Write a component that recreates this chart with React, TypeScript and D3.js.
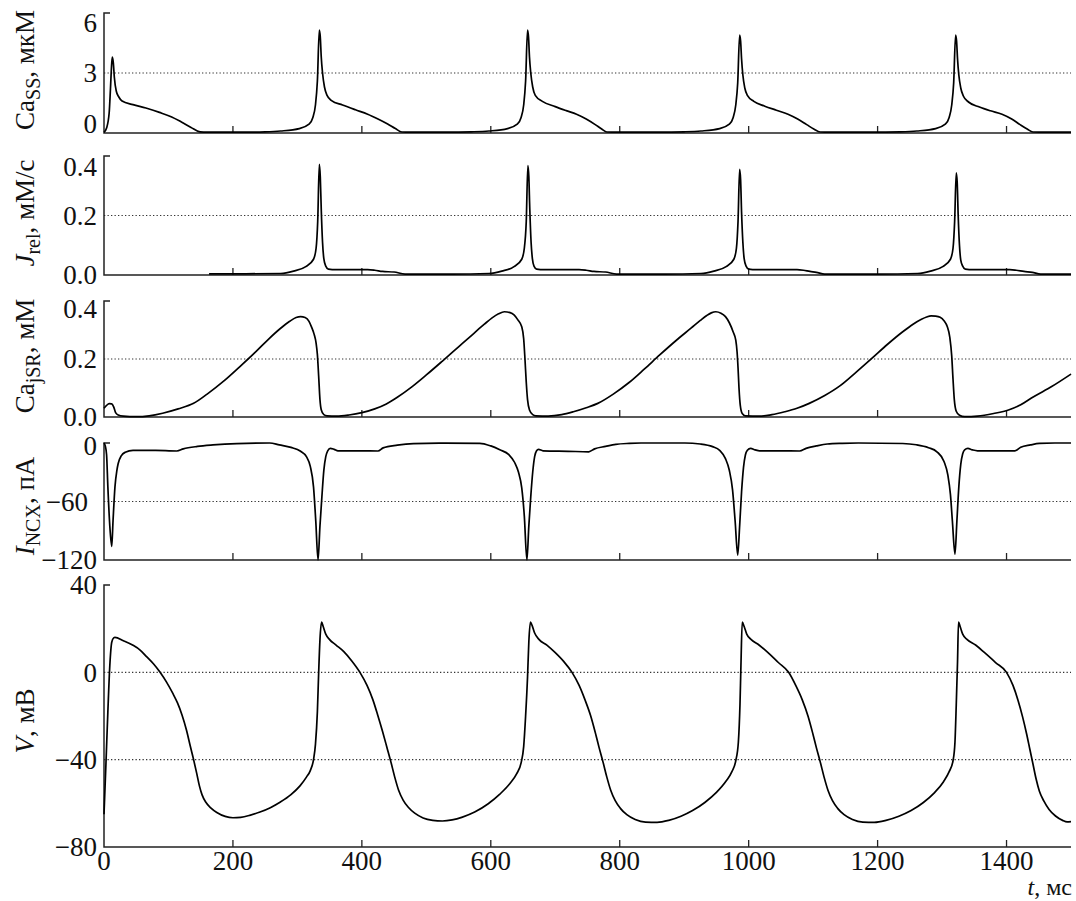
import React, { useEffect, useRef } from 'react'
import * as d3 from 'd3'

type Pt = [number, number]

// time axis, ms
const timeTicks = [0, 200, 400, 600, 800, 1000, 1200, 1400]

// Ca_SS, uM
const caSS: Pt[] = [
  [0, 0.03], [4, 0.25], [8, 1.0], [10, 2.2], [12, 3.5], [13, 3.8], [14.5, 3.5], [16, 2.8], [19, 2.1], [23, 1.8],
  [28, 1.6], [45, 1.42], [65, 1.25], [86, 1.03], [105, 0.8], [120, 0.55], [135, 0.28], [149, 0.06], [160, 0.04],
  [210, 0.04], [250, 0.06], [274, 0.1], [303, 0.22], [318, 0.44], [324, 0.78], [328, 1.4], [331, 2.6], [334, 5.15],
  [335.5, 4.8], [337, 3.8], [339, 3.0], [342, 2.3], [346, 1.88], [353, 1.62], [370, 1.4], [390, 1.16], [409, 0.94],
  [425, 0.7], [440, 0.45], [452, 0.22], [462, 0.05], [475, 0.04],
  [530, 0.04], [570, 0.06], [597, 0.1], [626, 0.22], [641, 0.44], [647, 0.78], [651, 1.4], [654, 2.6], [657, 5.15],
  [658.5, 4.8], [660, 3.8], [662, 3.0], [665, 2.3], [669, 1.88], [680, 1.58], [700, 1.32], [717, 1.12], [733, 0.94],
  [748, 0.7], [762, 0.42], [772, 0.2], [780, 0.05], [795, 0.04],
  [860, 0.04], [900, 0.06], [926, 0.1], [955, 0.22], [970, 0.44], [976, 0.78], [980, 1.4], [983, 2.5], [986, 4.9],
  [987.5, 4.6], [989, 3.7], [991, 2.9], [994, 2.25], [998, 1.88], [1008, 1.58], [1025, 1.34], [1043, 1.14], [1061, 0.94],
  [1076, 0.7], [1090, 0.42], [1101, 0.2], [1111, 0.05], [1125, 0.04],
  [1190, 0.04], [1235, 0.06], [1261, 0.1], [1290, 0.22], [1305, 0.44], [1311, 0.78], [1315, 1.4], [1318, 2.5], [1321, 4.9],
  [1322.5, 4.6], [1324, 3.7], [1326, 2.9], [1329, 2.25], [1333, 1.85], [1341, 1.55], [1358, 1.3], [1375, 1.11], [1393, 0.94],
  [1408, 0.7], [1421, 0.42], [1432, 0.2], [1441, 0.05], [1460, 0.04], [1500, 0.04],
]

// J_rel, mM/s
const jRel: Pt[] = [
  [163, 0.004], [220, 0.004], [274, 0.005], [294, 0.013], [313, 0.028], [325, 0.053], [329, 0.09], [331.5, 0.18],
  [334, 0.372], [335.5, 0.33], [337, 0.22], [339, 0.11], [341, 0.055], [344, 0.03], [348, 0.02], [360, 0.018],
  [409, 0.018], [420, 0.016], [432, 0.012], [450, 0.01], [467, 0.003],
  [540, 0.003], [597, 0.005], [617, 0.013], [636, 0.028], [648, 0.053], [652, 0.09], [655, 0.18],
  [657.5, 0.368], [659, 0.33], [660.5, 0.22], [662.5, 0.11], [664.5, 0.055], [667, 0.03], [671, 0.02], [683, 0.018],
  [737, 0.018], [748, 0.016], [760, 0.012], [778, 0.01], [795, 0.003],
  [870, 0.003], [926, 0.005], [946, 0.013], [965, 0.028], [977, 0.053], [981, 0.09], [983.5, 0.18],
  [986, 0.355], [987.5, 0.32], [989, 0.21], [991, 0.11], [993, 0.055], [996, 0.03], [1000, 0.02], [1012, 0.018],
  [1075, 0.018], [1085, 0.016], [1095, 0.012], [1105, 0.009], [1118, 0.003],
  [1200, 0.003], [1262, 0.005], [1282, 0.013], [1301, 0.028], [1313, 0.053], [1317, 0.09], [1319.5, 0.18],
  [1322, 0.343], [1323.5, 0.31], [1325, 0.2], [1327, 0.1], [1329, 0.05], [1332, 0.03], [1336, 0.02], [1348, 0.018],
  [1405, 0.018], [1415, 0.016], [1427, 0.012], [1440, 0.009], [1453, 0.003], [1500, 0.003],
]

// Ca_jSR, mM
const caJSR: Pt[] = [
  [0, 0.03], [4, 0.04], [8, 0.046], [12, 0.045], [15, 0.035], [18, 0.015], [22, 0.007], [30, 0.003], [50, 0.001],
  [70, 0.004], [91, 0.013], [115, 0.028], [139, 0.047], [160, 0.079], [187, 0.126], [210, 0.172], [236, 0.226],
  [255, 0.268], [274, 0.306], [288, 0.33], [298, 0.343], [305, 0.346], [312, 0.343], [318, 0.33], [322, 0.31],
  [326, 0.285], [329, 0.255], [331, 0.215], [333, 0.14], [335, 0.06], [337, 0.025], [341, 0.008], [346, 0.004],
  [361, 0.003], [380, 0.007], [400, 0.015], [420, 0.028], [438, 0.045], [455, 0.068], [477, 0.103], [500, 0.145],
  [525, 0.193], [550, 0.242], [573, 0.287], [590, 0.32], [602, 0.342], [612, 0.356], [621, 0.363], [630, 0.36],
  [636, 0.352], [642, 0.335], [648, 0.311], [651, 0.27], [653, 0.2], [655, 0.12], [657, 0.06], [660, 0.024],
  [665, 0.008], [670, 0.004], [689, 0.003], [710, 0.008], [728, 0.018], [748, 0.032], [766, 0.047], [790, 0.079],
  [814, 0.118], [838, 0.165], [862, 0.214], [887, 0.263], [911, 0.307], [925, 0.333], [935, 0.35], [942, 0.359],
  [949, 0.363], [957, 0.358], [964, 0.346], [970, 0.325], [976, 0.293], [980, 0.265], [982, 0.225], [983.5, 0.17],
  [985, 0.1], [987, 0.04], [990, 0.012], [995, 0.004], [1017, 0.003], [1036, 0.008], [1056, 0.018], [1075, 0.03],
  [1094, 0.047], [1118, 0.074], [1142, 0.108], [1166, 0.153], [1191, 0.202], [1215, 0.25], [1239, 0.294],
  [1255, 0.32], [1268, 0.337], [1276, 0.345], [1283, 0.349], [1290, 0.348], [1297, 0.344], [1303, 0.332],
  [1308, 0.312], [1312, 0.275], [1315, 0.21], [1317, 0.13], [1319, 0.06], [1322, 0.02], [1327, 0.006], [1335, 0.001],
  [1355, 0.003], [1380, 0.012], [1403, 0.024], [1422, 0.042], [1442, 0.07], [1470, 0.105], [1500, 0.148],
]

// I_NCX, pA
const iNCX: Pt[] = [
  [0, 0], [2, -3], [4, -12], [6, -45], [9, -85], [12, -106], [14, -80], [17, -45], [20, -28], [22, -21], [27, -13],
  [33, -9.5], [45, -7.5], [80, -7.6], [113, -8.2], [123, -6], [145, -3.5], [169, -2], [206, -0.6], [257, 0],
  [272, -2], [290, -4.5], [305, -8.5], [314, -14], [320, -24], [325, -45], [328.5, -80], [332, -120], [335, -85],
  [338, -55], [341, -28], [344, -14], [347, -8], [351, -5.5], [357, -6.5], [363, -8], [400, -8], [425, -8.2],
  [433, -5], [455, -2.2], [480, -0.6], [520, -0.2], [583, -0.3], [600, -3], [614, -7], [628, -12], [637, -20],
  [643, -30], [648, -46], [652, -75], [656, -120], [659, -85], [662, -55], [665, -30], [668, -14], [671, -8],
  [674, -6.5], [681, -8], [720, -8.5], [752, -9], [761, -6], [778, -3.5], [794, -1.4], [815, -0.4], [833, 0],
  [901, 0], [925, -1], [944, -3.7], [955, -7.5], [964, -16], [970, -28], [975, -48], [979, -80], [983, -115],
  [986, -85], [989, -50], [992, -25], [995, -12], [998, -7.5], [1003, -5.5], [1010, -7], [1017, -8], [1050, -8],
  [1079, -8.2], [1089, -5.5], [1105, -3], [1122, -1], [1145, -0.3], [1170, 0], [1239, -0.5], [1260, -1.8],
  [1279, -4.8], [1292, -9], [1303, -19], [1309, -33], [1313, -53], [1316, -80], [1320, -114], [1323, -80],
  [1326, -45], [1329, -22], [1332, -11], [1335, -7], [1340, -5.5], [1347, -7], [1355, -8], [1385, -8], [1413, -8],
  [1422, -4.4], [1437, -2], [1451, -0.4], [1475, 0], [1500, 0],
]

// V, mV
const volt: Pt[] = [
  [0, -65], [3, -42], [6, -18], [9, 3], [12, 13.8], [15, 15.8], [17, 16], [30, 14.5], [45, 12.4], [56, 10.2],
  [66, 7.2], [77, 3.8], [87, 0], [97, -4.5], [107, -9.8], [114, -14], [121, -19.5], [128, -26.5], [134, -34],
  [139, -40], [144, -46.5], [148, -52], [152, -56], [158, -59.5], [166, -62.2], [175, -64.2], [188, -66], [200, -66.6],
  [212, -66.4], [226, -65.5], [242, -64], [258, -62], [273, -59.5], [290, -56], [304, -52], [314, -48], [320, -45],
  [325, -40], [328, -33], [331, -18], [333, 0], [335, 15], [337.5, 23],
  [340, 21], [344, 17.5], [350, 15], [360, 12.5], [372, 9.5], [385, 5], [397, 0], [408, -6], [417, -12.5],
  [425, -20], [432, -27], [439, -34.5], [445, -41], [451, -48], [457, -54], [464, -58.5], [472, -61.8],
  [482, -64.5], [495, -66.7], [510, -67.8], [525, -68.1], [540, -67.6], [556, -66.3], [575, -64], [596, -60.2],
  [614, -55.8], [630, -50.8], [640, -46.5], [647, -41.5], [651, -34], [654, -20], [657, -2], [659, 14], [661.5, 23],
  [664, 21.5], [668, 18], [675, 15], [687, 12.5], [700, 9], [713, 5], [726, 0], [737, -6], [746, -12.5],
  [755, -20], [762, -27.5], [768, -34.5], [774, -41], [780, -48], [786, -54], [793, -58.8], [801, -62.3],
  [811, -65.2], [824, -67.4], [840, -68.6], [858, -68.7], [876, -67.8], [895, -65.9], [913, -63.3], [932, -59.6],
  [950, -55], [965, -49.8], [974, -45.5], [980, -40.5], [984, -32], [986.5, -15], [988, 3], [990, 23],
  [993, 21], [997, 17.5], [1004, 15], [1016, 12.5], [1030, 9], [1046, 4.5], [1062, 0], [1073, -6], [1083, -12.5],
  [1092, -20], [1099, -27.5], [1105, -34.5], [1111, -41], [1117, -48], [1123, -54], [1130, -58.8], [1138, -62.3],
  [1148, -65.2], [1161, -67.4], [1177, -68.6], [1195, -68.7], [1213, -67.8], [1233, -65.9], [1252, -63.3],
  [1271, -59.6], [1288, -55.2], [1302, -50.2], [1311, -45.5], [1317, -40.5], [1320, -32], [1322, -15], [1324, 5], [1325.5, 23],
  [1328, 21], [1332, 17.5], [1339, 15], [1352, 12.5], [1366, 9], [1383, 4.5], [1400, 0], [1410, -6], [1418, -13],
  [1425, -20.5], [1431, -28], [1436, -35], [1441, -42], [1446, -49], [1451, -54.5], [1458, -59], [1466, -62.8],
  [1476, -65.8], [1487, -67.8], [1494, -68.5], [1500, -68.4],
]

const caSSTicks = [0, 3, 6]
const jRelTicks = [0, 0.2, 0.4]
const caJSRTicks = [0, 0.2, 0.4]
const iNCXTicks = [-120, -60, 0]
const voltTicks = [-80, -40, 0, 40]

const caSSGrid = [3]
const jRelGrid = [0.2]
const caJSRGrid = [0.2]
const iNCXGrid = [-60]
const voltGrid = [0, -40]

type Part = { text: string; italic?: boolean; sub?: boolean }

const FONT = '"Liberation Serif", "Times New Roman", serif'

export default function App() {
  const svgRef = useRef<SVGSVGElement>(null)

  useEffect(() => {
    const svg = d3.select(svgRef.current)
    svg.selectAll('*').remove()

    const x = d3.scaleLinear().domain([0, 1500]).range([104, 1071])
    const fmtInt = d3.format('d')
    const fmt1 = d3.format('.1f')

    // shift: vertical nudge of a tick label (px), endX: right edge of the label
    const panels = [
      { data: caSS, domain: [0, 6], range: [133, 13], ticks: caSSTicks, grid: caSSGrid, fmt: fmtInt, labelY: 70,
        shift: { 6: 10, 0: -9 } as Record<number, number>, endX: {} as Record<number, number>,
        label: [{ text: 'Ca' }, { text: 'SS', sub: true }, { text: ', мкМ' }] as Part[] },
      { data: jRel, domain: [0, 0.4], range: [275, 156], ticks: jRelTicks, grid: jRelGrid, fmt: fmt1, labelY: 213,
        shift: { 0.4: 11 } as Record<number, number>, endX: {} as Record<number, number>,
        label: [{ text: 'J', italic: true }, { text: 'rel', sub: true }, { text: ', мМ/с' }] as Part[] },
      { data: caJSR, domain: [0, 0.4], range: [417, 301], ticks: caJSRTicks, grid: caJSRGrid, fmt: fmt1, labelY: 356,
        shift: { 0.4: 8 } as Record<number, number>, endX: {} as Record<number, number>,
        label: [{ text: 'Ca' }, { text: 'jSR', sub: true }, { text: ', мМ' }] as Part[] },
      { data: iNCX, domain: [-120, 0], range: [560, 443], ticks: iNCXTicks, grid: iNCXGrid, fmt: fmtInt, labelY: 506,
        shift: { 0: 3 } as Record<number, number>, endX: { [-60]: 88 } as Record<number, number>,
        label: [{ text: 'I', italic: true }, { text: 'NCX', sub: true }, { text: ', пА' }] as Part[] },
      { data: volt, domain: [-80, 40], range: [847, 585], ticks: voltTicks, grid: voltGrid, fmt: fmtInt, labelY: 721,
        shift: {} as Record<number, number>, endX: {} as Record<number, number>,
        label: [{ text: 'V', italic: true }, { text: ', мВ' }] as Part[] },
    ]

    panels.forEach((p, i) => {
      const y = d3.scaleLinear().domain(p.domain).range(p.range)
      const g = svg.append('g')
      const yTop = y(p.domain[1])
      const yBot = y(p.domain[0])

      // dotted reference lines
      g.selectAll('line.grid')
        .data(p.grid)
        .join('line')
        .attr('class', 'grid')
        .attr('x1', x(0)).attr('x2', x(1500))
        .attr('y1', d => y(d)).attr('y2', d => y(d))
        .attr('stroke', '#333')
        .attr('stroke-width', 1.1)
        .attr('stroke-dasharray', '1.3,2.2')

      // axes frame: top tick, left axis, bottom axis
      g.append('path')
        .attr('d', `M${x(0) + 6},${yTop}H${x(0)}V${yBot}H${x(1500)}`)
        .attr('fill', 'none')
        .attr('stroke', '#222')
        .attr('stroke-width', 1.5)

      // inner time ticks
      g.selectAll('line.xtick')
        .data(timeTicks.filter(t => t > 0))
        .join('line')
        .attr('class', 'xtick')
        .attr('x1', d => x(d)).attr('x2', d => x(d))
        .attr('y1', yBot).attr('y2', yBot - 7)
        .attr('stroke', '#222')
        .attr('stroke-width', 1.3)

      // y tick labels
      g.selectAll('text.ytick')
        .data(p.ticks)
        .join('text')
        .attr('class', 'ytick')
        .attr('x', d => p.endX[d] ?? 97)
        .attr('y', d => y(d) + (p.shift[d] ?? 0))
        .attr('dy', '0.35em')
        .attr('text-anchor', 'end')
        .attr('font-family', FONT)
        .attr('font-size', 27)
        .attr('fill', '#111')
        .text(d => p.fmt(d))

      // series
      const line = d3.line<Pt>()
        .x(d => x(d[0]))
        .y(d => y(d[1]))
        .curve(d3.curveMonotoneX)
      g.append('path')
        .datum(p.data)
        .attr('d', line)
        .attr('fill', 'none')
        .attr('stroke', '#000')
        .attr('stroke-width', 1.7)
        .attr('stroke-linejoin', 'round')

      // rotated axis label
      const lab = g.append('text')
        .attr('transform', `translate(34,${p.labelY}) rotate(-90)`)
        .attr('text-anchor', 'middle')
        .attr('font-family', FONT)
        .attr('font-size', 27)
        .attr('fill', '#111')
      let shifted = false
      p.label.forEach(part => {
        const ts = lab.append('tspan').text(part.text)
        if (part.italic) ts.attr('font-style', 'italic')
        if (part.sub) {
          ts.attr('font-size', 20).attr('dy', 6)
          shifted = true
        } else if (shifted) {
          ts.attr('dy', -6)
          shifted = false
        }
      })

      // time labels under last panel
      if (i === panels.length - 1) {
        g.selectAll('text.xlab')
          .data(timeTicks)
          .join('text')
          .attr('class', 'xlab')
          .attr('x', d => x(d))
          .attr('y', yBot + 23)
          .attr('text-anchor', 'middle')
          .attr('font-family', FONT)
          .attr('font-size', 27)
          .attr('fill', '#111')
          .text(d => fmtInt(d))

        const tl = g.append('text')
          .attr('x', 1072)
          .attr('y', 895)
          .attr('text-anchor', 'end')
          .attr('font-family', FONT)
          .attr('font-size', 24)
          .attr('fill', '#111')
        tl.append('tspan').attr('font-style', 'italic').text('t')
        tl.append('tspan').text(', мс')
      }
    })
  }, [])

  return (
    <svg
      ref={svgRef}
      width={1076}
      height={901}
      style={{ position: 'absolute', left: 0, top: 0, background: '#fff' }}
    />
  )
}
